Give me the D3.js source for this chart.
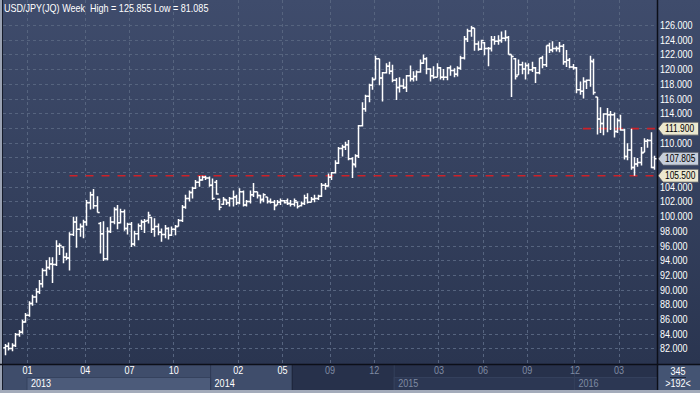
<!DOCTYPE html>
<html>
<head>
<meta charset="utf-8">
<script src="https://cdn.jsdelivr.net/npm/d3@7"></script>
<style>
body{margin:0;background:#2c3753;overflow:hidden}
svg{display:block;font-family:"Liberation Sans",Arial,sans-serif;font-size:11px}
</style>
</head>
<body>
<div id="app"></div>
<script>

// weekly USD/JPY bars
var opens = [82.1,82.3,82.0,82.4,83.9,84.2,85.6,86.5,88.1,89.0,89.7,90.8,92.6,93.0,93.5,93.4,95.9,95.8,94.4,94.3,
97.5,99.2,98.2,98.6,99.2,101.8,102.9,101.4,99.0,97.6,94.2,97.9,99.2,100.9,99.1,100.6,98.3,98.9,96.2,97.6,
98.7,99.2,99.4,99.8,98.2,98.6,97.8,97.5,98.3,97.4,98.2,98.6,99.4,101.2,102.4,103.2,103.8,104.6,104.9,105.3,
105.2,104.2,104.6,102.3,101.6,102.2,101.8,102.4,102.6,101.8,103.3,101.5,102.0,102.9,103.3,102.8,102.3,102.6,102.0,101.9,
101.5,101.9,102.1,102.1,101.7,101.6,101.9,101.4,101.7,102.5,101.9,102.3,102.4,102.7,104.2,104.1,105.3,105.9,107.2,109.2,
109.4,109.7,107.8,107.0,108.2,112.3,114.6,116.3,117.8,118.6,121.4,118.8,119.5,120.4,119.7,118.5,117.5,117.7,117.5,119.1,
118.7,119.0,119.6,120.8,121.4,120.0,119.1,118.9,120.2,118.9,118.9,120.2,119.8,119.3,120.1,121.5,124.1,125.2,125.6,123.4,
122.7,123.6,122.8,122.8,124.0,123.8,123.9,124.2,124.3,122.0,121.4,119.2,120.6,120.0,120.5,119.9,120.2,119.5,121.5,120.6,
123.2,122.6,122.8,122.8,123.1,121.0,121.2,120.3,120.2,117.2,117.0,118.3,118.5,121.0,116.2,113.2,112.6,113.9,113.8,113.8,
111.5,113.0,111.7,108.1,109.0,106.6,107.1,107.3,108.7,110.2,110.3,106.6]
var highs = [82.6,82.8,82.7,84.1,84.5,85.9,86.8,88.4,89.3,90.2,91.3,92.9,94.0,94.4,94.4,96.7,96.3,95.9,95.0,97.8,
99.9,99.9,99.0,99.5,102.2,103.3,103.7,102.7,99.2,99.3,98.5,99.9,101.2,101.5,101.0,100.9,99.1,99.2,98.0,99.0,
99.5,99.6,100.6,99.9,99.7,99.0,98.3,98.8,98.5,98.6,98.8,99.6,101.5,102.9,103.5,104.0,104.9,105.45,105.5,105.5,
105.4,105.1,104.9,102.4,102.6,102.3,102.6,103.5,102.9,103.8,103.5,102.2,103.5,104.5,103.3,102.9,103.1,102.6,102.4,102.2,
102.2,102.4,102.2,102.4,102.2,102.4,102.0,102.0,102.9,103.1,102.6,102.9,102.9,104.5,104.5,105.8,106.0,107.6,109.4,109.7,
110.1,110.35,108.0,108.4,112.4,115.5,116.5,118.0,118.9,121.8,121.4,119.6,120.8,121.0,120.6,118.8,118.9,118.7,119.2,120.5,
119.7,119.8,121.3,122.0,121.6,120.1,120.4,120.8,120.3,120.0,120.3,120.5,120.1,120.4,121.8,124.5,125.5,125.855,125.6,123.8,
124.0,123.7,123.0,124.5,124.5,124.6,125.1,125.3,124.5,122.0,121.5,121.3,121.0,120.9,120.8,121.0,120.3,121.5,121.8,123.2,
123.6,123.8,123.1,123.7,123.4,122.6,121.5,120.7,120.3,118.3,118.9,118.6,121.8,121.4,116.2,114.8,114.0,114.7,114.3,114.1,
113.3,113.8,111.9,109.9,111.9,108.0,107.9,109.4,110.6,110.5,111.4,108.2]
var lows = [81.085,81.7,81.6,82.2,83.6,84.0,85.5,86.3,87.8,88.2,89.4,90.3,91.9,92.7,90.9,93.2,94.7,93.6,94.0,92.6,
97.3,95.7,97.2,97.0,98.7,100.9,101.0,100.5,94.9,93.9,94.0,97.7,98.9,98.2,99.0,98.0,97.5,95.8,95.9,96.7,
98.1,97.7,99.0,97.7,97.2,97.4,96.5,97.0,96.8,97.3,97.4,98.6,99.2,101.0,102.0,102.4,103.7,104.0,104.8,104.9,
104.0,102.2,102.9,100.8,101.5,101.5,101.3,101.3,101.5,101.6,101.3,101.3,101.7,102.6,102.4,101.7,101.9,101.7,101.7,100.8,
101.5,101.5,101.7,101.5,101.3,101.3,101.05,101.3,101.5,101.7,101.9,101.9,102.2,102.6,103.6,104.0,104.9,105.8,107.1,108.1,
109.0,107.6,105.2,106.6,107.9,112.2,114.2,115.5,117.2,118.6,117.8,115.6,119.4,119.3,118.2,115.8,116.8,117.3,116.9,118.3,
118.3,118.4,119.5,120.7,119.3,118.3,118.7,118.9,118.6,118.5,118.5,119.1,118.9,119.0,119.9,121.3,123.7,124.4,122.5,122.5,
122.6,121.9,120.4,122.4,123.3,123.3,123.6,123.8,122.0,116.2,118.6,119.2,119.3,118.6,119.3,119.6,118.1,119.3,120.1,120.3,
122.2,122.3,122.4,122.3,120.6,120.3,120.1,119.9,116.7,116.5,116.0,117.3,117.6,116.5,111.1,111.3,111.0,111.4,111.7,110.7,
111.3,111.6,107.7,107.6,106.3,105.5,106.7,106.9,108.7,109.3,106.5,106.3]
var closes = [82.3,82.0,82.4,83.9,84.2,85.6,86.5,88.1,89.0,89.7,90.8,92.6,93.0,93.5,93.4,95.9,96.0,94.4,94.3,97.5,
99.2,98.2,98.6,99.2,101.8,102.9,101.4,100.5,97.6,94.2,97.9,99.2,100.9,99.1,100.6,98.3,98.9,96.2,97.6,98.7,
99.2,99.3,100.1,98.2,98.6,97.8,97.5,98.3,97.4,98.2,98.6,99.4,101.2,102.4,103.2,103.8,104.6,104.9,105.3,105.2,
104.2,102.4,103.0,101.2,102.3,101.8,102.4,102.6,101.8,103.3,101.5,102.0,102.9,103.3,102.8,102.2,102.9,102.0,101.9,101.4,
101.9,102.1,101.8,101.7,101.6,102.1,101.3,101.7,102.5,101.9,102.3,102.4,102.7,104.2,104.1,105.3,105.9,107.2,109.2,109.4,
109.7,107.8,107.1,108.2,112.3,114.6,116.3,117.8,118.6,121.4,118.8,119.5,120.4,119.7,118.5,117.5,117.7,117.5,119.1,118.7,
119.0,119.6,120.8,121.4,120.0,119.1,118.9,120.2,118.9,118.9,120.2,119.8,119.3,120.1,121.5,124.1,125.2,125.6,123.4,122.7,
123.9,122.8,122.8,124.0,123.8,123.9,124.2,124.3,122.0,121.7,119.0,120.6,120.0,120.5,119.9,120.2,119.5,121.5,120.6,123.2,
122.6,122.8,122.8,123.1,121.0,121.2,120.3,120.2,117.2,117.0,118.3,118.5,121.1,116.8,113.2,112.6,113.9,113.8,113.8,111.5,
113.0,111.7,108.1,109.0,106.6,107.1,107.3,108.6,110.2,110.3,106.6,107.805]

var monthLabels = ["01","04","07","10","02","05","09","12","03","06","09","12","03"]
var monthBars = [7,24,37,50,69,82,96,109,128,141,154,168,181]
var yearLabels = ["2013","2014","2015","2016"]
var yearBars = [7,61,115,168]
var yTicks = d3.range(82,127,2)
var levels = [111.9,105.5]
var levelFrom = [170,19]
var title = "USD/JPY(JQ) Week  High = 125.855 Low = 81.085"
var barCount = "345"
var visibleBars = ">192<"

var W = 700, H = 393
var left = 3, right = 657, bottom = 364
var darkBar = 85

var n = opens.length
var x = d3.scaleLinear().domain([0,n-1]).range([4.9,654.3])
var step = x(1)-x(0)
var y = d3.scaleLinear().domain([82,126]).range([348.4,25])
var edge = i => x(i)-step/2

// the original font is a narrow one, squeeze the glyphs
function narrow(sel,k){
  k = k || 0.82
  sel.each(function(){
    var w = this.getComputedTextLength()
    d3.select(this).attr("textLength",w*k).attr("lengthAdjust","spacingAndGlyphs")
  })
  return sel
}

var svg = d3.select("#app").append("svg").attr("width",W).attr("height",H)

var grad = svg.append("defs").append("linearGradient").attr("id","bg")
  .attr("x1",0).attr("y1",0).attr("x2",0).attr("y2",1)
grad.append("stop").attr("offset","0%").attr("stop-color","#3f4c6c")
grad.append("stop").attr("offset","100%").attr("stop-color","#2a3550")
svg.append("rect").attr("width",W).attr("height",bottom).attr("fill","url(#bg)")

// grid
svg.append("g").selectAll("line").data(yTicks).enter().append("line")
  .attr("x1",left).attr("x2",right).attr("y1",d=>Math.round(y(d))+0.5).attr("y2",d=>Math.round(y(d))+0.5)
  .attr("stroke","#56647f").attr("stroke-dasharray","3,3")
svg.append("g").selectAll("line").data(monthBars).enter().append("line")
  .attr("y1",0).attr("y2",bottom).attr("x1",d=>Math.round(edge(d))+0.5).attr("x2",d=>Math.round(edge(d))+0.5)
  .attr("stroke","#56647f").attr("stroke-dasharray","3,3")

// support / resistance
svg.append("g").selectAll("line").data(levels).enter().append("line")
  .attr("x1",(d,i)=>x(levelFrom[i])).attr("x2",right)
  .attr("y1",d=>y(d)).attr("y2",d=>y(d))
  .attr("stroke","#cc2229").attr("stroke-width",1.6).attr("stroke-dasharray","8,8")

// ohlc bars
var tick = 2.2
svg.append("g").selectAll("path").data(d3.range(n)).enter().append("path")
  .attr("d",i=>{
    var bx = Math.round(x(i))+0.5
    return "M"+bx+","+y(highs[i])+"V"+y(lows[i])+
      "M"+(bx-tick)+","+y(opens[i])+"H"+bx+
      "M"+bx+","+y(closes[i])+"H"+(bx+tick)
  })
  .attr("stroke","#fff").attr("stroke-width",1.5).attr("fill","none")

narrow(svg.append("text").attr("x",4).attr("y",12).attr("fill","#fff")
  .style("white-space","pre").text(title))

// y axis, labels under the price tags are hidden like in the original
var tagged = [levels[0],closes[n-1],levels[1]]
var shown = yTicks.filter(t=>!tagged.some(v=>Math.abs(v-t)<0.9))
var yAxis = svg.append("g").attr("transform","translate("+right+",0)")
  .call(d3.axisRight(y).tickValues(shown).tickFormat(d3.format(".3f")).tickSize(0).tickPadding(3))
yAxis.select(".domain").remove()
narrow(yAxis.selectAll("text").attr("fill","#fff").style("font-family","inherit").style("font-size","11px"))

function tag(v,fill){
  var ty = y(v)
  svg.append("path").attr("d","M658,"+ty+"L663,"+(ty-6.5)+"H698.5V"+(ty+6.5)+"H663Z")
    .attr("fill",fill).attr("stroke","#4a4e5c").attr("stroke-width",0.8)
  narrow(svg.append("text").attr("x",665).attr("y",ty+3.6).attr("fill","#000")
    .style("font-size","10px").text(d3.format(".3f")(v)),0.84)
}
tag(tagged[0],"#ece8cf")
tag(tagged[1],"#c6cedb")
tag(tagged[2],"#ece8cf")

// x axis panel
var ax = svg.append("g")
var darkX = edge(darkBar)
ax.append("rect").attr("x",left).attr("y",bottom).attr("width",darkX-left).attr("height",26).attr("fill","#3f4d6b")
ax.append("rect").attr("x",edge(yearBars[0])).attr("y",377.5).attr("width",edge(yearBars[1])-edge(yearBars[0])).attr("height",13)
  .attr("fill","#4c5b7a").attr("stroke","#35425e")
ax.append("line").attr("x1",edge(yearBars[1])).attr("x2",edge(yearBars[1])).attr("y1",bottom).attr("y2",390).attr("stroke","#2e3a55")
ax.append("rect").attr("x",darkX).attr("y",bottom).attr("width",right-darkX).attr("height",26).attr("fill","#27314b")
ax.append("line").attr("x1",darkX).attr("x2",darkX).attr("y1",bottom).attr("y2",390).attr("stroke","#1c2438")
yearBars.slice(2).forEach((b,k)=>{
  var x0 = edge(b), x1 = k==0 ? edge(yearBars[3]) : right
  ax.append("rect").attr("x",x0).attr("y",377.5).attr("width",x1-x0).attr("height",13)
    .attr("fill","#2c3753").attr("stroke","#34405c")
  ax.append("line").attr("x1",x0).attr("x2",x0).attr("y1",bottom).attr("y2",390).attr("stroke","#34405c")
})

var xAxis = ax.append("g").attr("transform","translate(0,366)")
  .call(d3.axisBottom(x).tickValues(monthBars.map(b=>b-0.5)).tickFormat((d,i)=>monthLabels[i]).tickSize(0).tickPadding(0))
xAxis.select(".domain").remove()
narrow(xAxis.selectAll("text").attr("dy","0.72em").style("font-family","inherit").style("font-size","11px")
  .attr("fill",(d,i)=>monthBars[i]<darkBar ? "#fff" : "#7f8aa2"))

narrow(ax.selectAll(".year").data(yearLabels).enter().append("text").attr("class","year")
  .attr("x",(d,i)=>edge(yearBars[i])+4).attr("y",387).text(d=>d)
  .attr("fill",(d,i)=>yearBars[i]<darkBar ? "#fff" : "#7f8aa2"))

// frame
svg.append("rect").attr("x",0).attr("y",0).attr("width",2).attr("height",H).attr("fill","#9aa2b3")
svg.append("line").attr("x1",2.5).attr("x2",2.5).attr("y1",0).attr("y2",390).attr("stroke","#151b2a")
svg.append("line").attr("x1",0).attr("x2",W).attr("y1",bottom+0.5).attr("y2",bottom+0.5).attr("stroke","#0c0f18").attr("stroke-width",1.5)
svg.append("line").attr("x1",right+0.5).attr("x2",right+0.5).attr("y1",0).attr("y2",390).attr("stroke","#0c0f18").attr("stroke-width",1.5)
svg.append("rect").attr("x",0).attr("y",390).attr("width",W).attr("height",3).attr("fill","#a3abba")

var box = svg.append("g")
box.append("rect").attr("x",658.5).attr("y",365.5).attr("width",41.5).attr("height",24.5).attr("fill","#445473")
narrow(box.append("text").attr("x",678).attr("y",375).attr("text-anchor","middle").attr("fill","#fff").text(barCount))
box.append("line").attr("x1",670).attr("x2",686).attr("y1",377.5).attr("y2",377.5).attr("stroke","#1f283c")
narrow(box.append("text").attr("x",678).attr("y",387).attr("text-anchor","middle").attr("fill","#fff").text(visibleBars))

</script>
</body>
</html>
